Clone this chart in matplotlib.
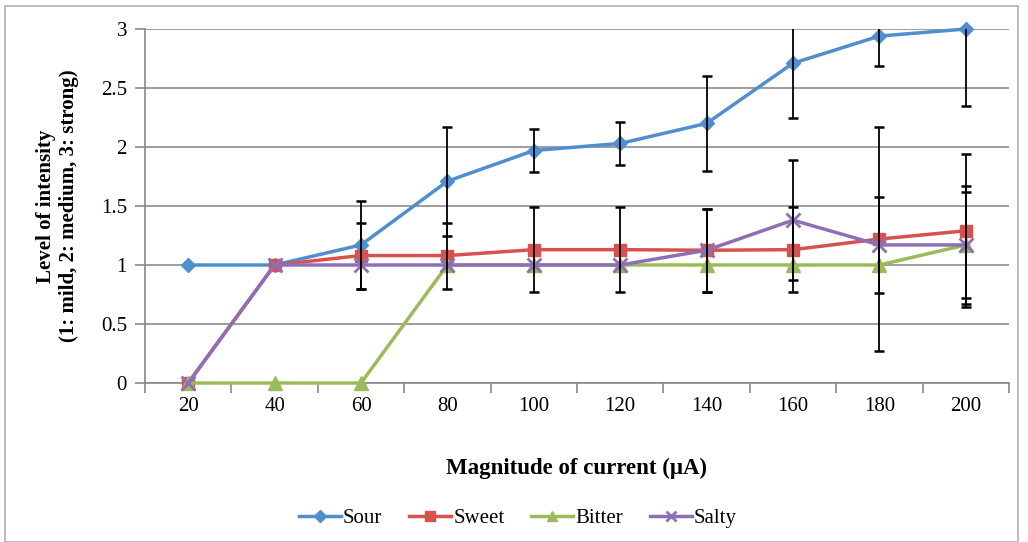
import numpy as np
import matplotlib.pyplot as plt
from matplotlib.patches import Rectangle

plt.rcParams['font.family'] = ['Liberation Serif', 'DejaVu Serif']

# data
currents = ["20", "40", "60", "80", "100", "120", "140", "160", "180", "200"]
sour = [1.0, 1.0, 1.17, 1.71, 1.97, 2.03, 2.2, 2.71, 2.94, 3.0]
sweet = [0.0, 1.0, 1.08, 1.08, 1.13, 1.13, 1.125, 1.13, 1.22, 1.29]
bitter = [0.0, 0.0, 0.0, 1.0, 1.0, 1.0, 1.0, 1.0, 1.0, 1.17]
salty = [0.0, 1.0, 1.0, 1.0, 1.0, 1.0, 1.125, 1.38, 1.17, 1.17]

sour_err = [0, 0, 0.37, 0.46, 0.18, 0.18, 0.4, 0.46, 0.25, 0.65]
sweet_err = [0, 0, 0.28, 0.28, 0.36, 0.36, 0.35, 0.36, 0.95, 0.65]
bitter_err = [0, 0, 0, 0, 0, 0, 0, 0, 0, 0.45]
salty_err = [0, 0, 0, 0, 0, 0, 0.35, 0.51, 0.41, 0.5]

series = [
    ("Sour", sour, sour_err, "#4F8ECF", "D", 7.5),
    ("Sweet", sweet, sweet_err, "#D6524E", "s", 9),
    ("Bitter", bitter, bitter_err, "#9BBB59", "^", 10),
    ("Salty", salty, salty_err, "#8E6FB6", "x", 10),
]

fig = plt.figure(figsize=(10.28, 5.42), dpi=100)
fig.patches.append(Rectangle((5 / 1028, 0), 1013 / 1028, 536 / 542,
                             transform=fig.transFigure, fill=False,
                             edgecolor="#B0B0B0", linewidth=1.2))
ax = fig.add_axes([145 / 1028, (542 - 383) / 542, 864 / 1028, 354 / 542])

x = np.arange(len(currents))
for name, vals, err, col, mk, ms in series:
    ax.plot(x, vals, color=col, linewidth=2.5, marker=mk, markersize=ms,
            markeredgewidth=2 if mk == "x" else 1, markeredgecolor=col,
            label=name, clip_on=False, zorder=3)
for name, vals, err, col, mk, ms in series:
    # only the points that have a spread get a bar
    idx = [i for i in range(len(err)) if err[i] > 0]
    ax.errorbar(x[idx], np.array(vals)[idx], yerr=np.array(err)[idx],
                fmt="none", ecolor="black", elinewidth=1.3, capsize=3.5,
                capthick=1.8, zorder=4)

ax.set_xlim(-0.5, len(currents) - 0.5)
ax.set_ylim(0, 3)
ax.set_yticks(np.arange(0, 3.01, 0.5))
ax.set_yticklabels(["0", "0.5", "1", "1.5", "2", "2.5", "3"])
ax.set_xticks(x)
ax.set_xticklabels(currents)
ax.set_xticks(np.arange(-0.5, len(currents), 1), minor=True)
ax.tick_params(axis="x", which="major", length=0, pad=10, labelsize=15)
ax.tick_params(axis="x", which="minor", length=7, width=1.2, color="#888888")
ax.tick_params(axis="y", length=7, width=1.2, color="#888888", pad=6,
               labelsize=15)

ax.grid(axis="y", color="#8C8C8C", linewidth=1.2)
ax.set_axisbelow(True)
for s in ["top", "right"]:
    ax.spines[s].set_visible(False)
for s in ["left", "bottom"]:
    ax.spines[s].set_color("#888888")
    ax.spines[s].set_linewidth(1.2)

ax.set_xlabel("Magnitude of current (\u03bcA)", fontsize=16.5,
              fontweight="bold", labelpad=30)
ax.set_ylabel("Level of intensity\n(1: mild, 2: medium, 3: strong)",
              fontsize=15, fontweight="bold", labelpad=16)

fig.legend(loc="center", bbox_to_anchor=(518 / 1028, 1 - 518 / 542), ncol=4,
           frameon=False, fontsize=15, handlelength=2.0, handletextpad=0.1,
           columnspacing=1.3, markerscale=0.75)

fig.savefig("out.png", dpi=100)
